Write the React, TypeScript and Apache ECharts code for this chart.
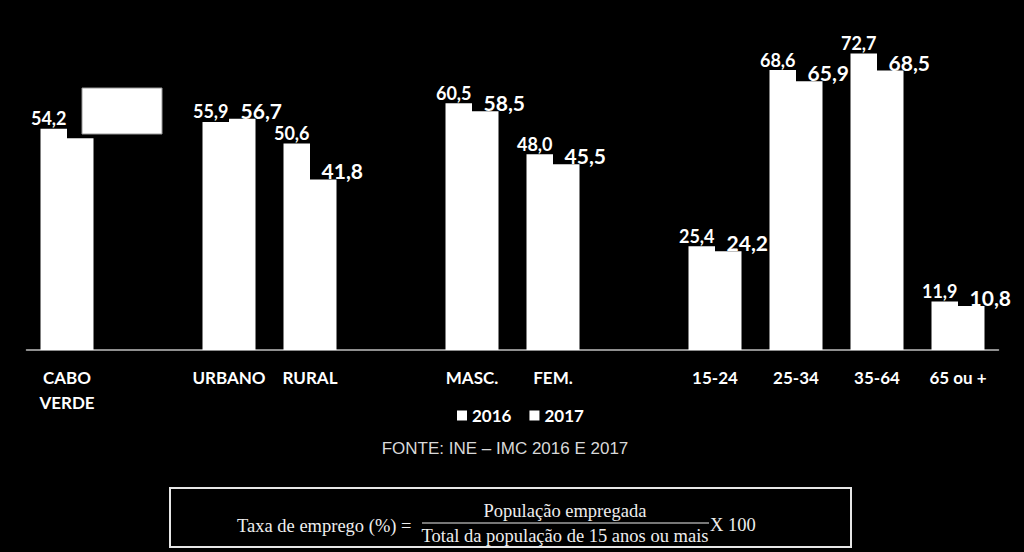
import React, { useEffect, useRef } from "react";
import * as echarts from "echarts";

const categories = [
  "CABO\nVERDE",
  "",
  "URBANO",
  "RURAL",
  "",
  "MASC.",
  "FEM.",
  "",
  "15-24",
  "25-34",
  "35-64",
  "65 ou +",
];
const values2016 = [54.2, null, 55.9, 50.6, null, 60.5, 48.0, null, 25.4, 68.6, 72.7, 11.9];
const values2017 = [51.9, null, 56.7, 41.8, null, 58.5, 45.5, null, 24.2, 65.9, 68.5, 10.8];
const seriesNames = ["2016", "2017"];
const sourceText = "FONTE: INE \u2013 IMC 2016 E 2017";
const formulaLeft = "Taxa de emprego (%) =";
const formulaNum = "Popula\u00e7\u00e3o empregada";
const formulaDen = "Total da popula\u00e7\u00e3o de 15 anos ou mais";
const formulaRight = "X 100";

const fmt = (p: any) =>
  p.value == null ? "" : Number(p.value).toFixed(1).replace(".", ",");

export default function App() {
  const ref = useRef<HTMLDivElement>(null);
  useEffect(() => {
    document.body.style.margin = "0";
    document.body.style.background = "#000";
    const chart = echarts.init(ref.current!, null, { renderer: "svg" });
    const serifFont = "'Liberation Serif', serif";
    chart.setOption({
      animation: false,
      backgroundColor: "#000",
      grid: { left: 26.5, right: 25.5, top: 23.6, bottom: 202 },
      legend: {
        data: seriesNames,
        left: 452,
        top: 402,
        icon: "rect",
        itemWidth: 10,
        itemHeight: 10,
        itemGap: 18,
        textStyle: {
          color: "#fff",
          fontFamily: "Lato",
          fontWeight: "bold",
          fontSize: 17,
        },
      },
      xAxis: {
        type: "category",
        data: categories,
        axisLine: { lineStyle: { color: "#bfbfbf", width: 1.5 } },
        axisTick: { show: false },
        axisLabel: {
          interval: 0,
          color: "#fff",
          fontFamily: "Lato",
          fontWeight: "bold",
          fontSize: 17,
          lineHeight: 25,
          margin: 15,
        },
      },
      yAxis: { type: "value", min: 0, max: 80, show: false },
      series: [
        {
          name: seriesNames[0],
          type: "bar",
          data: values2016,
          barWidth: 26.5,
          barGap: "0%",
          itemStyle: { color: "#fff" },
          label: {
            show: true,
            position: "top",
            distance: 1.5,
            offset: [-5, 0],
            formatter: fmt,
            color: "#fff",
            fontFamily: "Lato",
            fontWeight: "bold",
            fontSize: 18,
            lineHeight: 18,
          },
        },
        {
          name: seriesNames[1],
          type: "bar",
          data: values2017.map((v, i) =>
            i === 0 ? { value: v, label: { show: false } } : v
          ),
          barWidth: 26.5,
          barGap: "0%",
          itemStyle: { color: "#fff" },
          label: {
            show: true,
            position: "top",
            distance: 0,
            offset: [19, 2],
            formatter: fmt,
            color: "#fff",
            fontFamily: "Lato",
            fontWeight: "bold",
            fontSize: 21,
            lineHeight: 21,
          },
        },
      ],
      graphic: [
        {
          type: "rect",
          shape: { x: 82, y: 88, width: 80, height: 46 },
          style: { fill: "#fff", stroke: "#999", lineWidth: 1 },
          z: 100,
        },
        {
          type: "text",
          x: 505,
          y: 448,
          style: {
            text: sourceText,
            fill: "#d9d9d9",
            font: "17px 'Liberation Sans', Arial, sans-serif",
            align: "center",
            verticalAlign: "middle",
          },
        },
        {
          type: "rect",
          shape: { x: 170, y: 488, width: 681, height: 59 },
          style: { fill: "#000", stroke: "#e6e6e6", lineWidth: 2 },
        },
        {
          type: "text",
          x: 237,
          y: 526,
          style: {
            text: formulaLeft,
            fill: "#eee",
            font: `18.5px ${serifFont}`,
            align: "left",
            verticalAlign: "middle",
          },
        },
        {
          type: "text",
          x: 565,
          y: 511,
          style: {
            text: formulaNum,
            fill: "#eee",
            font: `18.5px ${serifFont}`,
            align: "center",
            verticalAlign: "middle",
          },
        },
        {
          type: "line",
          shape: { x1: 422, y1: 523, x2: 709, y2: 523 },
          style: { stroke: "#eee", lineWidth: 1.2 },
        },
        {
          type: "text",
          x: 565,
          y: 536,
          style: {
            text: formulaDen,
            fill: "#eee",
            font: `18.5px ${serifFont}`,
            align: "center",
            verticalAlign: "middle",
          },
        },
        {
          type: "text",
          x: 710,
          y: 525,
          style: {
            text: formulaRight,
            fill: "#eee",
            font: `18.5px ${serifFont}`,
            align: "left",
            verticalAlign: "middle",
          },
        },
      ],
    });
    return () => chart.dispose();
  }, []);
  return (
    <div
      ref={ref}
      style={{ position: "fixed", left: 0, top: 0, width: 1024, height: 552 }}
    />
  );
}
